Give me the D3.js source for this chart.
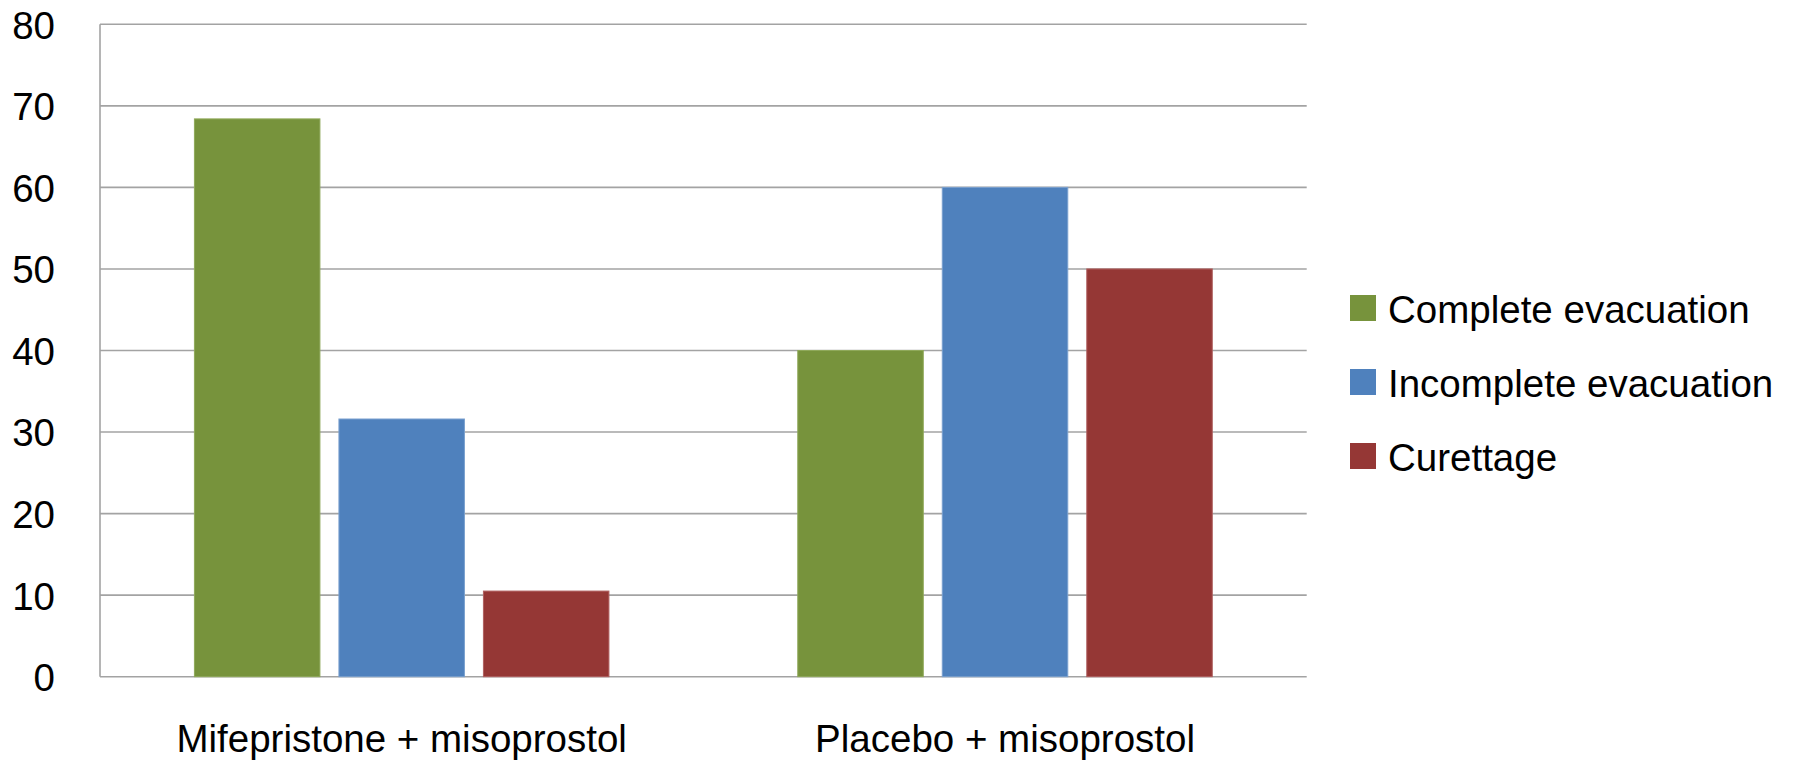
<!DOCTYPE html>
<html>
<head>
<meta charset="utf-8">
<script src="https://cdn.jsdelivr.net/npm/d3@7"></script>
<style>
  html, body { margin: 0; padding: 0; background: #fff; }
  svg { display: block; }
  text { font-family: "Liberation Sans", Arial, sans-serif; fill: #000; }
</style>
</head>
<body>
<svg id="chart" width="1801" height="762"></svg>
<script>
const categories = ["Mifepristone + misoprostol", "Placebo + misoprostol"];
const seriesNames = ["Complete evacuation", "Incomplete evacuation", "Curettage"];
const completeEvacuation = [68.4, 40];
const incompleteEvacuation = [31.6, 60];
const curettage = [10.5, 50];
const yTicks = [0, 10, 20, 30, 40, 50, 60, 70, 80];
const seriesColors = ["#77933C", "#4F81BD", "#953735"];
const seriesStroke = ["#8fa95a", "#7aa0cf", "#b06060"];

(function () {
const seriesValues = [completeEvacuation, incompleteEvacuation, curettage];
const data = categories.map((c, i) => ({
  category: c,
  values: seriesNames.map((s, j) => ({ series: s, idx: j, value: seriesValues[j][i] }))
}));

const svg = d3.select("#chart");
const pLeft = 100, pRight = 1306.7, pTop = 24.3, pBottom = 676.7;

const y = d3.scaleLinear().domain([0, 80]).range([pBottom, pTop]);
const x0 = d3.scaleBand().domain(categories).range([pLeft, pRight]).padding(0);
const outer = x0.bandwidth() * 0.1565;
const x1 = d3.scaleBand().domain(seriesNames)
  .range([outer, x0.bandwidth() - outer]).paddingInner(0.1315).paddingOuter(0);

// gridlines
svg.append("g")
  .selectAll("line")
  .data(yTicks)
  .join("line")
  .attr("x1", pLeft).attr("x2", pRight)
  .attr("y1", d => y(d)).attr("y2", d => y(d))
  .attr("stroke", "#a3a3a3")
  .attr("stroke-width", 1.6);

// left axis line
svg.append("line")
  .attr("x1", pLeft).attr("x2", pLeft)
  .attr("y1", y(80)).attr("y2", y(0))
  .attr("stroke", "#a3a3a3").attr("stroke-width", 1.6);

// bars
const groups = svg.append("g").selectAll("g")
  .data(data).join("g")
  .attr("transform", d => `translate(${x0(d.category)},0)`);

groups.selectAll("rect")
  .data(d => d.values)
  .join("rect")
  .attr("x", d => x1(d.series))
  .attr("width", x1.bandwidth())
  .attr("y", d => y(d.value))
  .attr("height", d => y(0) - y(d.value))
  .attr("fill", d => seriesColors[d.idx])
  .attr("stroke", d => seriesStroke[d.idx])
  .attr("stroke-width", 1);

// y axis labels
const yAxis = d3.axisLeft(y).tickValues(yTicks).tickSize(0).tickPadding(0);
const yg = svg.append("g").attr("transform", `translate(55,0)`).call(yAxis);
yg.select(".domain").remove();
yg.selectAll("text")
  .attr("font-size", 38.5)
  .attr("font-family", "Liberation Sans, Arial, sans-serif")
  .attr("fill", "#000")
  .attr("x", 0)
  .attr("dy", "0.36em");

// x axis labels
const xAxis = d3.axisBottom(x0).tickSize(0).tickPadding(0);
const xg = svg.append("g").attr("transform", `translate(0,${pBottom})`).call(xAxis);
xg.select(".domain").remove();
xg.selectAll("text")
  .attr("font-size", 38.5)
  .attr("font-family", "Liberation Sans, Arial, sans-serif")
  .attr("fill", "#000")
  .attr("y", 75)
  .attr("dy", 0);

// legend
const legend = svg.append("g").attr("transform", "translate(1350,295)");
const li = legend.selectAll("g").data(seriesNames).join("g")
  .attr("transform", (d, i) => `translate(0,${i * 74})`);
li.append("rect")
  .attr("width", 26).attr("height", 26)
  .attr("fill", (d, i) => seriesColors[i]);
li.append("text")
  .attr("x", 38).attr("y", 28)
  .attr("font-size", 38.5)
  .text(d => d);
})();
</script>
</body>
</html>
